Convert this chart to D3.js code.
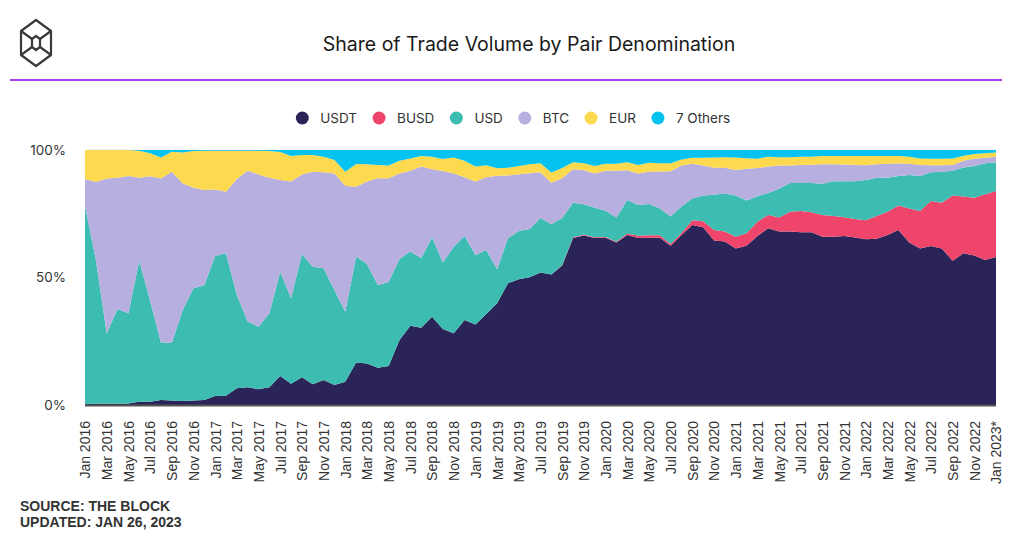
<!DOCTYPE html>
<html>
<head>
<meta charset="utf-8">
<script src="https://cdn.jsdelivr.net/npm/d3@7"></script>
<style>
  body { margin: 0; background: #fff; }
  svg { display: block; font-family: Inter, "Noto Sans", sans-serif; }
</style>
</head>
<body>
<div id="chart"></div>
<script>
// months on the x axis (last one is partial)
var months = [
  "Jan 2016","Feb 2016","Mar 2016","Apr 2016","May 2016","Jun 2016","Jul 2016","Aug 2016","Sep 2016","Oct 2016","Nov 2016","Dec 2016",
  "Jan 2017","Feb 2017","Mar 2017","Apr 2017","May 2017","Jun 2017","Jul 2017","Aug 2017","Sep 2017","Oct 2017","Nov 2017","Dec 2017",
  "Jan 2018","Feb 2018","Mar 2018","Apr 2018","May 2018","Jun 2018","Jul 2018","Aug 2018","Sep 2018","Oct 2018","Nov 2018","Dec 2018",
  "Jan 2019","Feb 2019","Mar 2019","Apr 2019","May 2019","Jun 2019","Jul 2019","Aug 2019","Sep 2019","Oct 2019","Nov 2019","Dec 2019",
  "Jan 2020","Feb 2020","Mar 2020","Apr 2020","May 2020","Jun 2020","Jul 2020","Aug 2020","Sep 2020","Oct 2020","Nov 2020","Dec 2020",
  "Jan 2021","Feb 2021","Mar 2021","Apr 2021","May 2021","Jun 2021","Jul 2021","Aug 2021","Sep 2021","Oct 2021","Nov 2021","Dec 2021",
  "Jan 2022","Feb 2022","Mar 2022","Apr 2022","May 2022","Jun 2022","Jul 2022","Aug 2022","Sep 2022","Oct 2022","Nov 2022","Dec 2022",
  "Jan 2023*"
];

// share of volume in %, one value per month
var usdt = [
  0.3, 0.5, 0.5, 0.5, 0.6, 1.3, 1.3, 2.0, 1.8, 1.6, 1.8, 2.0,
  3.5, 3.6, 6.6, 7.0, 6.2, 7.0, 11.4, 8.3, 10.9, 8.1, 9.8, 7.8,
  9.1, 16.7, 16.3, 14.6, 15.3, 25.5, 31.1, 30.3, 34.6, 29.8, 28.1, 33.3,
  31.6, 35.7, 39.9, 47.7, 49.3, 50.1, 52.0, 51.2, 54.7, 65.5, 66.5, 65.5,
  65.6, 63.7, 66.7, 65.5, 65.6, 65.6, 62.5, 66.7, 70.6, 69.7, 64.5, 64.1,
  61.4, 62.5, 66.3, 69.3, 68.0, 68.0, 67.7, 67.7, 66.0, 66.0, 66.3, 65.7,
  65.0, 65.2, 66.7, 68.6, 63.7, 61.4, 62.4, 61.4, 56.6, 59.5, 58.6, 56.9,
  58.0
];
var busd = [
  0, 0, 0, 0, 0, 0, 0, 0, 0, 0, 0, 0,
  0, 0, 0, 0, 0, 0, 0, 0, 0, 0, 0, 0,
  0, 0, 0, 0, 0, 0, 0, 0, 0, 0, 0, 0,
  0, 0, 0, 0, 0, 0, 0, 0, 0.2, 0.3, 0.3, 0.3,
  0.3, 0.3, 0.6, 0.9, 1.0, 1.0, 0.6, 0.8, 1.9, 2.4, 4.1, 3.9,
  4.6, 4.9, 5.6, 5.2, 5.5, 7.8, 8.4, 7.9, 8.5, 8.1, 7.3, 7.2,
  7.5, 8.9, 9.1, 9.6, 13.4, 14.7, 17.6, 17.9, 25.6, 22.3, 22.7, 25.7,
  25.9
];
var usd = [
  77.7, 56.5, 27.5, 37.1, 35.4, 55.3, 39.7, 22.5, 22.5, 35.6, 44.0, 45.0,
  54.9, 55.9, 36.5, 25.7, 24.5, 29.0, 40.9, 33.6, 48.3, 46.1, 43.8, 37.3,
  27.5, 41.5, 39.0, 32.5, 32.9, 31.8, 29.1, 27.3, 31.2, 26.1, 34.0, 33.0,
  27.2, 25.1, 13.3, 17.7, 18.9, 18.9, 21.3, 19.7, 18.4, 13.5, 11.9, 11.6,
  10.3, 9.5, 13.1, 12.0, 12.2, 10.5, 10.8, 10.3, 8.5, 10.1, 13.9, 14.9,
  16.2, 12.8, 10.0, 8.6, 11.3, 11.3, 11.0, 11.5, 12.3, 13.6, 14.1, 14.8,
  15.7, 15.0, 13.3, 11.6, 13.1, 13.7, 11.3, 12.2, 9.7, 11.3, 12.4, 12.2,
  11.3
];
var btc = [
  10.6, 30.5, 60.8, 51.5, 53.8, 32.5, 48.7, 64.3, 67.2, 49.8, 39.4, 37.3,
  26.1, 24.1, 45.5, 59.2, 59.7, 53.1, 35.9, 45.7, 31.2, 37.3, 37.7, 45.7,
  49.4, 27.4, 32.3, 41.8, 40.7, 33.5, 31.7, 35.9, 26.7, 35.9, 28.7, 23.0,
  28.8, 28.5, 36.7, 24.6, 22.3, 21.9, 18.0, 16.3, 15.6, 13.2, 13.4, 13.4,
  15.7, 18.4, 11.7, 12.4, 12.7, 14.5, 17.8, 16.1, 13.6, 11.7, 10.5, 10.1,
  10.0, 12.4, 11.0, 10.4, 9.1, 6.8, 7.0, 7.1, 7.6, 6.7, 6.6, 6.4,
  5.8, 5.3, 5.5, 4.9, 4.4, 4.3, 2.7, 2.5, 2.2, 2.7, 2.9, 2.2,
  2.2
];
var eur = [
  11.4, 12.5, 11.2, 10.9, 10.2, 10.6, 9.0, 8.3, 7.8, 12.0, 14.4, 15.4,
  15.2, 16.1, 11.1, 7.8, 9.3, 10.5, 11.0, 10.0, 7.6, 6.5, 6.1, 5.3,
  5.5, 8.9, 6.8, 5.2, 5.0, 5.0, 4.8, 4.1, 4.9, 4.7, 6.3, 6.5,
  5.9, 4.7, 2.9, 3.0, 3.2, 3.5, 3.5, 4.0, 4.0, 2.7, 2.7, 2.9,
  2.7, 2.7, 3.1, 3.3, 3.5, 3.2, 3.1, 2.4, 2.4, 3.1, 4.1, 4.2,
  4.9, 4.2, 3.7, 3.9, 3.3, 3.3, 3.3, 3.2, 3.2, 3.2, 3.3, 3.5,
  3.6, 3.2, 3.0, 2.9, 2.8, 2.6, 2.6, 2.6, 2.6, 1.9, 1.8, 1.7,
  1.6
];
var others = [
  0, 0, 0, 0, 0, 0.3, 1.3, 2.9, 0.7, 1.0, 0.4, 0.3,
  0.3, 0.3, 0.3, 0.3, 0.3, 0.4, 0.8, 2.4, 2.0, 2.0, 2.6, 3.9,
  8.5, 5.5, 5.6, 5.9, 6.1, 4.2, 3.3, 2.4, 2.6, 3.5, 2.9, 4.2,
  6.5, 6.0, 7.2, 7.0, 6.3, 5.6, 5.2, 8.8, 7.1, 4.8, 5.2, 6.3,
  5.4, 5.4, 4.8, 5.9, 5.0, 5.2, 5.2, 3.7, 3.0, 3.0, 2.9, 2.8,
  2.9, 3.2, 3.4, 2.6, 2.8, 2.8, 2.6, 2.6, 2.4, 2.4, 2.4, 2.4,
  2.4, 2.4, 2.4, 2.4, 2.6, 3.3, 3.4, 3.4, 3.3, 2.3, 1.6, 1.3,
  1.0
];

var keys = ["usdt", "busd", "usd", "btc", "eur", "others"];
var seriesNames = ["USDT", "BUSD", "USD", "BTC", "EUR", "7 Others"];
var seriesColors = ["#2a2459", "#f0456b", "#3dbdb1", "#b7afdf", "#fcd94f", "#05c2f1"];
var yTicks = [0, 0.5, 1];

var rows = months.map(function(m, i) {
  return { month: m, usdt: usdt[i], busd: busd[i], usd: usd[i], btc: btc[i], eur: eur[i], others: others[i] };
});

var width = 1024, height = 537;
var margin = {top: 150, right: 28, bottom: 132, left: 85};

var svg = d3.select("#chart")
  .append("svg")
  .attr("width", width)
  .attr("height", height);

// header: logo, title, purple rule
var logo = svg.append("g")
  .attr("transform", "translate(36,43)")
  .attr("fill", "none")
  .attr("stroke", "#3a3a3a")
  .attr("stroke-width", 2.2)
  .attr("stroke-linejoin", "round");
logo.append("path").attr("d", "M0,-23 L15,-12 L15,12 L0,23 L-15,12 L-15,-12 Z");
logo.append("path").attr("d", "M-15,-12 L-4,-4 M15,-12 L4,-4 M-15,12 L-4,4 M15,12 L4,4");
logo.append("path").attr("d", "M0,-7 L4,-4 L4,4 L0,7 L-4,4 L-4,-4 Z");

svg.append("text")
  .attr("x", 529)
  .attr("y", 51)
  .attr("text-anchor", "middle")
  .style("font-size", "19.5px")
  .style("fill", "#1a1a1a")
  .text("Share of Trade Volume by Pair Denomination");

svg.append("line")
  .attr("x1", 10).attr("x2", 1002)
  .attr("y1", 80).attr("y2", 80)
  .attr("stroke", "#a43ef0")
  .attr("stroke-width", 2);

// legend, centred
var legend = svg.append("g").attr("class", "legend");
var items = legend.selectAll("g")
  .data(seriesNames)
  .enter().append("g");
items.append("circle")
  .attr("r", 6.5)
  .attr("cy", 0)
  .attr("fill", function(d, i) { return seriesColors[i]; });
items.append("text")
  .attr("x", 18)
  .attr("dy", "0.35em")
  .style("font-size", "13.5px")
  .style("fill", "#333")
  .text(function(d) { return d; });
var pos = 0;
items.each(function() {
  var w = this.querySelector("text").getComputedTextLength();
  d3.select(this).attr("transform", "translate(" + pos + ",0)");
  pos += 18 + w + 22;
});
var legendWidth = pos - 22 + 6.5;
legend.attr("transform", "translate(" + (513 - legendWidth / 2 + 6.5) + ",118)");

// scales
var x = d3.scalePoint()
  .domain(months)
  .range([margin.left, width - margin.right]);
var y = d3.scaleLinear()
  .domain([0, 1])
  .range([height - margin.bottom, margin.top]);

// grid
svg.append("g")
  .selectAll("line")
  .data(yTicks)
  .enter().append("line")
  .attr("x1", margin.left).attr("x2", width - margin.right)
  .attr("y1", function(d) { return y(d); })
  .attr("y2", function(d) { return y(d); })
  .attr("stroke", "#e6e6e6");

// stacked areas
var stacked = d3.stack()
  .keys(keys)
  .offset(d3.stackOffsetExpand)(rows);

var area = d3.area()
  .x(function(d) { return x(d.data.month); })
  .y0(function(d) { return y(d[0]); })
  .y1(function(d) { return y(d[1]); });

svg.append("g")
  .selectAll("path")
  .data(stacked)
  .enter().append("path")
  .attr("d", area)
  .attr("fill", function(d, i) { return seriesColors[i]; });

// baseline
svg.append("line")
  .attr("x1", margin.left).attr("x2", width - margin.right)
  .attr("y1", y(0) + 0.5).attr("y2", y(0) + 0.5)
  .attr("stroke", "#555")
  .attr("stroke-width", 2);

// y axis
var yAxis = svg.append("g")
  .attr("transform", "translate(" + margin.left + ",0)")
  .call(d3.axisLeft(y).tickValues(yTicks).tickFormat(d3.format(".0%")).tickSize(0).tickPadding(19));
yAxis.select(".domain").remove();
yAxis.selectAll("text")
  .style("font-family", "Inter, sans-serif")
  .style("font-size", "13.5px")
  .style("fill", "#333");

// x axis, every second month
var xAxis = svg.append("g")
  .attr("transform", "translate(0," + y(0) + ")")
  .call(d3.axisBottom(x).tickValues(months.filter(function(d, i) { return i % 2 === 0; })).tickSize(0));
xAxis.select(".domain").remove();
xAxis.selectAll("text")
  .attr("transform", "rotate(-90)")
  .attr("x", -16)
  .attr("y", 0)
  .attr("dy", "0.35em")
  .attr("text-anchor", "end")
  .style("font-family", "'Liberation Sans', Arial, sans-serif")
  .style("font-size", "14px")
  .style("fill", "#333");

// source note
svg.append("text")
  .attr("x", 20).attr("y", 511)
  .style("font-family", "'Liberation Sans', Arial, sans-serif")
  .style("font-weight", "bold")
  .style("font-size", "14px")
  .style("fill", "#333")
  .text("SOURCE: THE BLOCK");
svg.append("text")
  .attr("x", 20).attr("y", 527)
  .style("font-family", "'Liberation Sans', Arial, sans-serif")
  .style("font-weight", "bold")
  .style("font-size", "14px")
  .style("fill", "#333")
  .text("UPDATED: JAN 26, 2023");
</script>
</body>
</html>
